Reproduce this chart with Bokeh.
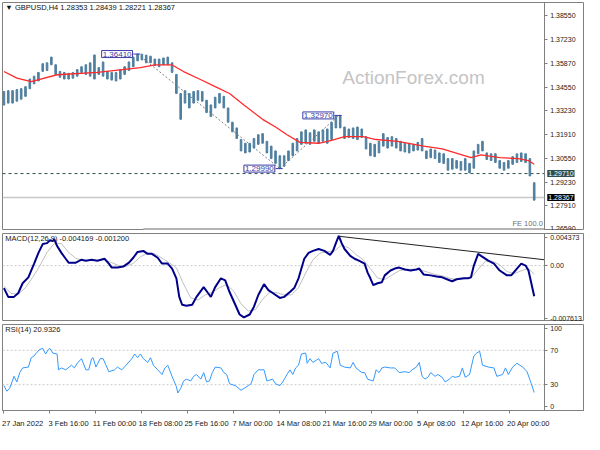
from bokeh.plotting import figure
from bokeh.layouts import column
from bokeh.models import (Range1d, FixedTicker, Label, CustomJSTickFormatter,
                          NumeralTickFormatter, LinearAxis)
from bokeh.embed import file_html
from bokeh.resources import INLINE

FONT = "Liberation Sans"

# ---------------- data (H4 bar index, 0 = 27 Jan 2022 08:00) ----------------
bar_idx = list(range(0, 370, 3))
bar_high = [1.3431, 1.3436, 1.3436, 1.3442, 1.3447, 1.3458, 1.3501, 1.3517, 1.3538, 1.3587,
            1.3592, 1.3624, 1.3581, 1.3544, 1.3538, 1.3533, 1.3538, 1.3554, 1.3570, 1.3581,
            1.3592, 1.3636, 1.3565, 1.3597, 1.3544, 1.3538, 1.3538, 1.3554, 1.3570, 1.3597,
            1.3624, 1.3641, 1.3640, 1.3635, 1.3629, 1.3613, 1.3613, 1.3619, 1.3624, 1.3592,
            1.3527, 1.3420, 1.3436, 1.3420, 1.3431, 1.3436, 1.3431, 1.3382, 1.3356, 1.3399,
            1.3420, 1.3404, 1.3339, 1.3259, 1.3227, 1.3162, 1.3141, 1.3141, 1.3168, 1.3189,
            1.3195, 1.3152, 1.3125, 1.3098, 1.3071, 1.3071, 1.3098, 1.3141, 1.3168, 1.3205,
            1.3216, 1.3200, 1.3216, 1.3205, 1.3216, 1.3221, 1.3259, 1.3291, 1.3297, 1.3232,
            1.3221, 1.3227, 1.3232, 1.3221, 1.3178, 1.3141, 1.3135, 1.3152, 1.3195, 1.3173,
            1.3178, 1.3168, 1.3152, 1.3141, 1.3141, 1.3135, 1.3146, 1.3168, 1.3098, 1.3109,
            1.3103, 1.3087, 1.3082, 1.3055, 1.3055, 1.3044, 1.3039, 1.3055, 1.3028, 1.3098,
            1.3135, 1.3152, 1.3087, 1.3082, 1.3082, 1.3044, 1.3033, 1.3044, 1.3066, 1.3082,
            1.3087, 1.3082, 1.3055, 1.2920]
bar_low = [1.3355, 1.3366, 1.3366, 1.3377, 1.3388, 1.3404, 1.3447, 1.3474, 1.3490, 1.3544,
           1.3549, 1.3581, 1.3527, 1.3511, 1.3501, 1.3501, 1.3506, 1.3517, 1.3538, 1.3527,
           1.3517, 1.3501, 1.3527, 1.3517, 1.3501, 1.3495, 1.3490, 1.3501, 1.3527, 1.3549,
           1.3570, 1.3603, 1.3608, 1.3592, 1.3592, 1.3576, 1.3570, 1.3581, 1.3581, 1.3538,
           1.3420, 1.3275, 1.3366, 1.3339, 1.3366, 1.3382, 1.3377, 1.3313, 1.3291, 1.3339,
           1.3366, 1.3339, 1.3259, 1.3205, 1.3168, 1.3098, 1.3087, 1.3092, 1.3114, 1.3135,
           1.3141, 1.3087, 1.3055, 1.3028, 1.2999, 1.3012, 1.3044, 1.3071, 1.3098, 1.3135,
           1.3141, 1.3135, 1.3152, 1.3141, 1.3152, 1.3141, 1.3162, 1.3227, 1.3227, 1.3168,
           1.3173, 1.3168, 1.3162, 1.3173, 1.3109, 1.3071, 1.3066, 1.3087, 1.3125, 1.3114,
           1.3125, 1.3114, 1.3098, 1.3092, 1.3087, 1.3098, 1.3103, 1.3098, 1.3055, 1.3060,
           1.3055, 1.3033, 1.3028, 1.2990, 1.2996, 1.3001, 1.2990, 1.2990, 1.2975, 1.3001,
           1.3082, 1.3098, 1.3050, 1.3044, 1.3033, 1.3001, 1.2990, 1.3001, 1.3023, 1.3033,
           1.3039, 1.3033, 1.2958, 1.2822]

ma_idx = [0, 9, 19, 37, 65, 95, 105, 117, 125, 136, 147, 157, 167, 180, 189, 197, 206, 219,
          228, 237, 250, 259, 274, 292, 305, 325, 332, 345, 358, 365, 369]
ma_val = [1.3543, 1.3506, 1.3487, 1.3525, 1.3538, 1.3565, 1.3580, 1.3580, 1.3543, 1.3501,
          1.3458, 1.3420, 1.3356, 1.3275, 1.3232, 1.3189, 1.3146, 1.3141, 1.3157, 1.3178,
          1.3178, 1.3162, 1.3152, 1.3125, 1.3109, 1.3060, 1.3076, 1.3060, 1.3055, 1.3044, 1.3023]

macd_idx = [0, 3, 7, 10, 13, 17, 21, 24, 27, 30, 32, 34, 35, 37, 40, 43, 45, 50, 54, 57, 61, 65,
            70, 73, 75, 79, 83, 87, 90, 93, 97, 100, 103, 107, 110, 114, 117, 120, 122, 124, 127,
            131, 134, 139, 142, 144, 147, 151, 154, 157, 161, 164, 167, 171, 174, 177, 181, 184,
            187, 192, 195, 199, 202, 205, 209, 212, 215, 219, 223, 227, 229, 231, 233, 235, 237,
            241, 244, 247, 251, 253, 255, 257, 260, 263, 265, 269, 272, 275, 279, 283, 287, 289,
            292, 297, 301, 305, 310, 312, 315, 320, 323, 325, 327, 330, 332, 337, 341, 345, 350,
            353, 357, 360, 363, 365, 367, 369]
macd_val = [-0.00306, -0.00426, -0.00426, -0.00373, -0.00240, -0.00160, 0.00027, 0.00173,
            0.00293, 0.00306, 0.00346, 0.00333, 0.00360, 0.00266, 0.00173, 0.00093, 0.00040,
            0.00040, 0.00080, 0.00067, 0.00080, 0.00067, 0.00093, 0.00027, -0.00027, -0.00027,
            -0.00013, 0.00040, 0.00107, 0.00186, 0.00200, 0.00160, 0.00160, 0.00107, 0.00027,
            0.00027, -0.00040, -0.00173, -0.00426, -0.00533, -0.00546, -0.00533, -0.00426,
            -0.00293, -0.00373, -0.00426, -0.00293, -0.00173, -0.00200, -0.00360, -0.00533,
            -0.00666, -0.00706, -0.00666, -0.00559, -0.00400, -0.00253, -0.00333, -0.00373,
            -0.00440, -0.00426, -0.00360, -0.00306, -0.00173, 0.00093, 0.00173, 0.00200,
            0.00226, 0.00200, 0.00147, 0.00200, 0.00306, 0.00405, 0.00306, 0.00226, 0.00133,
            0.00093, 0.00067, 0.00027, -0.00093, -0.00173, -0.00266, -0.00240, -0.00226,
            -0.00133, -0.00067, -0.00040, -0.00027, -0.00053, -0.00067, -0.00053, -0.00040,
            -0.00120, -0.00133, -0.00147, -0.00160, -0.00200, -0.00213, -0.00186, -0.00173,
            -0.00173, -0.00160, 0.00000, 0.00160, 0.00133, 0.00067, 0.00027, -0.00067,
            -0.00133, -0.00133, -0.00040, 0.00027, 0.00000, -0.00067, -0.00240, -0.00417]

signal_idx = [0, 5, 10, 15, 20, 25, 30, 35, 40, 45, 50, 55, 60, 65, 70, 75, 80, 85, 90, 95,
              100, 105, 110, 115, 120, 125, 130, 135, 140, 145, 150, 155, 160, 165, 170, 175,
              180, 185, 190, 195, 200, 205, 210, 215, 220, 225, 230, 235, 240, 245, 250, 255,
              260, 265, 270, 275, 280, 285, 290, 295, 300, 305, 310, 315, 320, 325, 330, 335,
              340, 345, 350, 355, 360, 365, 369]
signal_val = [-0.0028, -0.0038, -0.0039, -0.0030, -0.0016, 0.0000, 0.0018, 0.0030, 0.0030,
              0.0018, 0.0010, 0.0007, 0.0007, 0.0007, 0.0008, 0.0004, 0.0000, -0.0001, 0.0003,
              0.0012, 0.0017, 0.0016, 0.0010, 0.0004, -0.0003, -0.0025, -0.0044, -0.0047,
              -0.0040, -0.0036, -0.0030, -0.0026, -0.0035, -0.0052, -0.0062, -0.0060, -0.0046,
              -0.0036, -0.0037, -0.0040, -0.0040, -0.0030, -0.0010, 0.0008, 0.0017, 0.0019,
              0.0020, 0.0028, 0.0024, 0.0015, 0.0008, -0.0004, -0.0017, -0.0019, -0.0013,
              -0.0007, -0.0005, -0.0005, -0.0006, -0.0009, -0.0012, -0.0014, -0.0017, -0.0019,
              -0.0018, -0.0017, -0.0005, 0.0006, 0.0006, 0.0001, -0.0008, -0.0011, -0.0007,
              -0.0004, -0.0012]

macd_trend_idx = [233, 376]
macd_trend_val = [0.0040, 0.0008]

rsi_idx = [0, 2, 4, 7, 9, 11, 13, 17, 19, 21, 23, 25, 27, 29, 31, 32, 34, 37, 38, 40, 43, 47,
           49, 51, 54, 57, 59, 61, 62, 64, 67, 69, 71, 73, 77, 79, 82, 85, 89, 91, 93, 95, 97,
           100, 102, 104, 107, 110, 112, 114, 117, 120, 121, 123, 125, 127, 130, 132, 134, 137,
           139, 141, 143, 145, 147, 151, 153, 155, 157, 161, 165, 170, 172, 174, 177, 181, 183,
           187, 189, 192, 194, 197, 199, 201, 203, 205, 207, 210, 211, 213, 215, 219, 221, 224,
           227, 229, 232, 234, 237, 241, 243, 245, 249, 251, 253, 257, 259, 261, 263, 265, 269,
           272, 275, 279, 282, 284, 287, 289, 291, 293, 295, 297, 300, 302, 305, 307, 310, 312,
           314, 317, 319, 321, 324, 327, 329, 331, 332, 333, 337, 341, 343, 347, 349, 351, 354,
           357, 359, 361, 364, 367, 369]
rsi_val = [28.9, 22.4, 25.7, 39.7, 33.2, 44.1, 49.5, 50.5, 61.4, 63.5, 67.8, 71.1, 72.2, 65.7,
           71.1, 72.2, 66.8, 65.7, 47.3, 49.5, 47.3, 52.7, 49.5, 54.9, 60.3, 47.3, 47.3, 60.3,
           61.4, 50.5, 60.3, 60.3, 52.7, 45.1, 47.3, 50.5, 47.3, 52.7, 60.3, 65.7, 61.4, 65.7,
           60.3, 55.9, 61.4, 52.7, 47.3, 41.9, 49.5, 52.7, 39.7, 27.8, 20.3, 25.7, 34.3, 36.5,
           34.3, 39.7, 41.9, 36.5, 44.1, 33.2, 34.3, 44.1, 50.5, 49.5, 44.1, 41.9, 31.1, 28.9,
           23.5, 28.9, 31.1, 41.9, 47.3, 47.3, 34.3, 36.5, 31.1, 28.9, 33.2, 41.9, 47.3, 41.9,
           49.5, 52.7, 65.7, 66.8, 54.9, 60.3, 55.9, 60.3, 54.9, 55.9, 49.5, 66.8, 68.9, 52.7,
           50.5, 49.5, 55.9, 49.5, 44.1, 44.1, 36.5, 34.3, 47.3, 44.1, 49.5, 50.5, 49.5, 49.5,
           44.1, 45.1, 44.1, 47.3, 50.5, 55.9, 39.7, 36.5, 38.6, 44.1, 39.7, 41.9, 38.6, 33.2,
           36.5, 39.7, 38.6, 39.7, 49.5, 38.6, 41.9, 63.5, 66.8, 68.9, 61.4, 52.7, 50.5, 49.5,
           39.7, 41.9, 49.5, 41.9, 50.5, 54.9, 52.7, 50.5, 45.1, 31.1, 20.9]

date_idx = [0, 32, 64, 96, 128, 160, 192, 224, 256, 288, 320, 352]
date_labels = ["27 Jan 2022", "3 Feb 16:00", "11 Feb 00:00", "18 Feb 08:00", "25 Feb 16:00",
               "7 Mar 00:00", "14 Mar 08:00", "21 Mar 16:00", "29 Mar 00:00", "5 Apr 08:00",
               "12 Apr 16:00", "20 Apr 00:00"]

price_ticks = [1.3855, 1.3723, 1.3587, 1.3455, 1.3323, 1.3191, 1.3055, 1.2923, 1.2791, 1.2659]
macd_tick_pos = [0.00386, 0.0, -0.00719]
macd_tick_labels = ["0.004373", "0.00", "-0.007613"]
rsi_tick_pos = [95.5, 70, 30, 5]
rsi_tick_labels = ["100", "70", "30", "0"]

swing_idx = [93, 192, 233]
swing_val = [1.3641, 1.2999, 1.3297]
swing_text = ["1.36410", "1.29990", "1.32970"]
support_level = 1.2971
bid_level = 1.28367
fe_level = 1.2661
fe_start = 97

title_text = "\u25bc GBPUSD,H4  1.28353 1.28439 1.28221 1.28367"
macd_text = "MACD(12,26,9) -0.004169 -0.001200"
rsi_text = "RSI(14) 20.9326"

# ---------------- styling ----------------
BAR = "#4f7f9f"
GRAY = "#808080"
W = 584
AX_X = 376          # right edge of the chart area (axis line)
xr = Range1d(-1, 404)


def base(height, yr, bottom=0, top=0):
    p = figure(width=W, height=height, x_range=xr, y_range=yr, output_backend="svg",
               toolbar_location=None, y_axis_location=None,
               x_axis_location=None if bottom == 0 else "below",
               min_border_left=2, min_border_right=0, min_border_top=top, min_border_bottom=bottom,
               background_fill_color="white", border_fill_color="white",
               outline_line_color=GRAY, outline_line_width=1)
    p.grid.visible = False
    ax = LinearAxis(fixed_location=AX_X)
    ax.axis_line_color = GRAY
    ax.major_tick_line_color = GRAY
    ax.major_tick_out = 3
    ax.major_tick_in = 0
    ax.minor_tick_line_color = None
    ax.major_label_text_font = FONT
    ax.major_label_text_font_size = "7px"
    ax.major_label_text_color = "#202020"
    ax.major_label_standoff = 3
    p.add_layout(ax, "right")
    return p, ax


def tick_fmt(pos, lab):
    return CustomJSTickFormatter(args=dict(pos=pos, lab=lab), code="""
        for (let i = 0; i < pos.length; i++) { if (Math.abs(pos[i] - tick) < 1e-7) return lab[i]; }
        return "";
    """)


# ---------- price panel ----------
p1, ax1 = base(230, Range1d(1.2652, 1.3930), top=2)
ax1.ticker = FixedTicker(ticks=price_ticks)
ax1.formatter = NumeralTickFormatter(format="0.00000")

p1.segment(x0=[-1], y0=[bid_level], x1=[AX_X], y1=[bid_level], color="#c8c8c8", line_width=1.5)
p1.segment(x0=[-1], y0=[support_level], x1=[AX_X], y1=[support_level], color="#2f4f4f",
           line_dash="3 3", line_width=1)
p1.segment(x0=[fe_start], y0=[fe_level], x1=[AX_X], y1=[fe_level], color="#b4b4b4", line_width=2)

p1.add_layout(Label(x=285, y=1.3512, text="ActionForex.com", text_align="center", text_baseline="middle",
                    text_font=FONT, text_font_size="19px", text_color="#c4c4c4"))

p1.line(x=[swing_idx[0], swing_idx[1]], y=[swing_val[0], swing_val[1]], color=GRAY, line_dash="2 2", line_width=1)
p1.line(x=[swing_idx[1], swing_idx[2]], y=[swing_val[1], swing_val[2]], color=GRAY, line_dash="2 2", line_width=1)

p1.vbar(x=bar_idx, top=bar_high, bottom=bar_low, width=1.1, color=BAR)
p1.line(x=ma_idx, y=ma_val, color="#ff2a2a", line_width=1.3)

for xi, yv, tx in zip(swing_idx, swing_val, swing_text):
    p1.segment(x0=[xi - 3], y0=[yv], x1=[xi + 2], y1=[yv], color="#3c3ca8", line_width=1)
    p1.add_layout(Label(x=xi - 3.5, y=yv, text=tx, text_align="right", text_baseline="middle",
                        text_font=FONT, text_font_size="8px", text_color="#3c3ca8",
                        background_fill_color="white", border_line_color="#3c3ca8", padding=1))

p1.add_layout(Label(x=1, y=1.3903, text=title_text, text_baseline="middle", text_font=FONT,
                    text_font_size="7.5px", text_color="#101010"))
p1.add_layout(Label(x=AX_X - 1, y=1.2668, text="FE 100.0", text_align="right", text_baseline="bottom",
                    text_font=FONT, text_font_size="7.5px", text_color="#707070"))
p1.add_layout(Label(x=AX_X, x_offset=3, y=support_level, text="1.29710", text_align="left",
                    text_baseline="middle", text_font=FONT, text_font_size="7px", text_color="white",
                    background_fill_color="#2f4f4f", padding=1))
p1.add_layout(Label(x=AX_X, x_offset=3, y=bid_level, text="1.28367", text_align="left",
                    text_baseline="middle", text_font=FONT, text_font_size="7px", text_color="white",
                    background_fill_color="black", padding=1))

# ---------- MACD panel ----------
p2, ax2 = base(88, Range1d(-0.007613, 0.004373))
ax2.ticker = FixedTicker(ticks=macd_tick_pos)
ax2.formatter = tick_fmt(macd_tick_pos, macd_tick_labels)
p2.segment(x0=[-1], y0=[0], x1=[AX_X], y1=[0], color="#c8c8c8", line_dash="2 2", line_width=1)
p2.line(x=signal_idx, y=signal_val, color="#c0c0c0", line_width=1)
p2.line(x=macd_idx, y=macd_val, color="#00008b", line_width=2)
p2.line(x=macd_trend_idx, y=macd_trend_val, color="#222222", line_width=1)
p2.add_layout(Label(x=1, y=0.0037, text=macd_text, text_baseline="middle", text_font=FONT,
                    text_font_size="7.5px", text_color="#202020"))

# ---------- RSI panel ----------
p3, ax3 = base(106, Range1d(0, 100), bottom=17)
ax3.ticker = FixedTicker(ticks=rsi_tick_pos)
ax3.formatter = tick_fmt(rsi_tick_pos, rsi_tick_labels)
for lvl in (70, 30):
    p3.segment(x0=[-1], y0=[lvl], x1=[AX_X], y1=[lvl], color="#c8c8c8", line_dash="2 2", line_width=1)
p3.line(x=rsi_idx, y=rsi_val, color="#3399ff", line_width=1)
p3.add_layout(Label(x=1, y=94, text=rsi_text, text_baseline="middle", text_font=FONT,
                    text_font_size="7.5px", text_color="#202020"))

label_pos = [d + 13 for d in date_idx]
xa = p3.xaxis[0]
xa.ticker = FixedTicker(ticks=label_pos, minor_ticks=date_idx)
xa.formatter = tick_fmt(label_pos, date_labels)
xa.axis_line_color = GRAY
xa.major_tick_line_color = None
xa.minor_tick_line_color = GRAY
xa.minor_tick_out = 3
xa.minor_tick_in = 0
xa.major_label_text_font = FONT
xa.major_label_text_font_size = "7.5px"
xa.major_label_text_color = "#202020"
xa.major_label_standoff = 2

layout = column(p1, p2, p3, spacing=3)
open("out.html", "w").write(file_html(layout, INLINE))
